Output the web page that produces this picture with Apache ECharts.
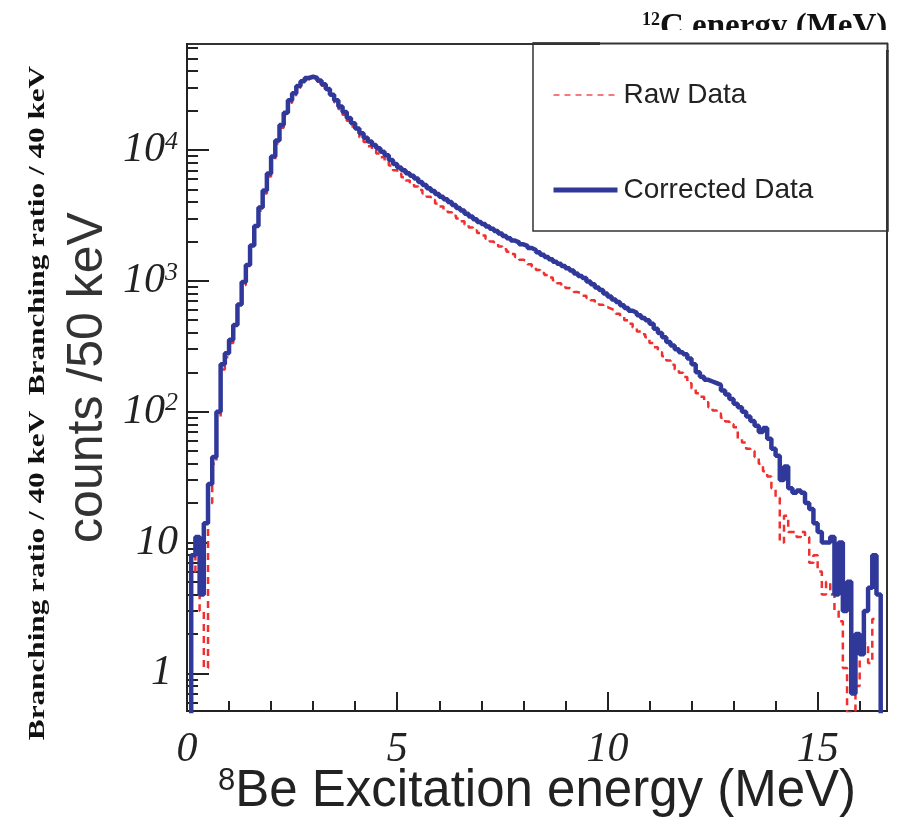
<!DOCTYPE html>
<html>
<head>
<meta charset="utf-8">
<script src="https://cdn.jsdelivr.net/npm/echarts@6/dist/echarts.min.js"></script>
<style>
html,body{margin:0;padding:0;background:#fff;}
#chart{width:898px;height:824px;}
</style>
</head>
<body>
<div id="chart"></div>
<script>
// Bin lower edges (MeV), 0.1 MeV bins
const energy = [
 0.0,0.1,0.2,0.3,0.4,0.5,0.6,0.7,0.8,0.9,
 1.0,1.1,1.2,1.3,1.4,1.5,1.6,1.7,1.8,1.9,
 2.0,2.1,2.2,2.3,2.4,2.5,2.6,2.7,2.8,2.9,
 3.0,3.1,3.2,3.3,3.4,3.5,3.6,3.7,3.8,3.9,
 4.0,4.1,4.2,4.3,4.4,4.5,4.6,4.7,4.8,4.9,
 5.0,5.1,5.2,5.3,5.4,5.5,5.6,5.7,5.8,5.9,
 6.0,6.1,6.2,6.3,6.4,6.5,6.6,6.7,6.8,6.9,
 7.0,7.1,7.2,7.3,7.4,7.5,7.6,7.7,7.8,7.9,
 8.0,8.1,8.2,8.3,8.4,8.5,8.6,8.7,8.8,8.9,
 9.0,9.1,9.2,9.3,9.4,9.5,9.6,9.7,9.8,9.9,
 10.0,10.1,10.2,10.3,10.4,10.5,10.6,10.7,10.8,10.9,
 11.0,11.1,11.2,11.3,11.4,11.5,11.6,11.7,11.8,11.9,
 12.0,12.1,12.2,12.3,12.4,12.5,12.6,12.7,12.8,12.9,
 13.0,13.1,13.2,13.3,13.4,13.5,13.6,13.7,13.8,13.9,
 14.0,14.1,14.2,14.3,14.4,14.5,14.6,14.7,14.8,14.9,
 15.0,15.1,15.2,15.3,15.4,15.5,15.6,15.7,15.8,15.9,
 16.0,16.1,16.2,16.3,16.4,16.5
];
// Corrected Data (counts per bin)
const corrected = [
 0.1,8,11,4,14,28,45,100,230,280,
 355,460,660,980,1320,1860,2630,3630,4900,6600,
 8900,11800,15500,19300,24000,27200,30900,33500,35500,36300,
 35500,34000,31800,29300,26500,24000,21500,19500,17600,16000,
 14600,13400,12400,11600,10900,10300,9700,9100,8400,7800,
 7350,7000,6650,6350,6050,5700,5400,5100,4850,4600,
 4400,4200,4000,3800,3600,3450,3250,3100,2950,2820,
 2720,2600,2500,2400,2300,2200,2120,2030,1970,1900,
 1850,1780,1720,1650,1580,1520,1460,1400,1350,1300,
 1250,1200,1140,1090,1050,990,940,890,850,800,
 760,720,690,650,620,590,570,545,520,500,
 470,430,400,370,340,320,300,285,275,255,
 230,200,185,175,170,165,160,145,135,125,
 115,108,100,92,85,78,70,75,62,52,
 46,30,38,26,24,25,24,20,18,14,
 12,10,10,11,4,10,3,5,0.7,2,
 1.4,3,4.5,8,4,0.1
];
// Raw Data
const raw = [
 0.1,6,9,3,1.1,20,40,90,210,260,
 335,435,625,930,1250,1760,2490,3440,4650,6270,
 8460,11200,14800,18400,23000,26200,29900,32600,34700,35600,
 34800,33200,31000,28400,25600,23100,20600,18600,16700,15100,
 13700,12500,11500,10700,10000,9400,8800,8200,7600,7000,
 6550,6200,5850,5550,5250,4950,4650,4400,4150,3900,
 3700,3500,3350,3150,3000,2850,2700,2560,2430,2320,
 2220,2100,2000,1920,1830,1740,1670,1600,1520,1450,
 1400,1340,1280,1210,1150,1110,1060,1010,960,920,
 880,850,820,800,770,740,710,680,655,630,
 610,590,560,530,500,470,440,410,390,370,
 335,310,285,265,246,228,210,198,184,165,
 150,138,130,118,108,102,97,90,84,80,
 76,62,58,52,50,45,40,35,32,26,
 22,10,16,12,12,11,12,11,7,8,
 6,4,5,4,3,2.5,1.1,0.5,0.5,0.8,
 1.5,1.7,1.2,2.6,2.6,0.1
];
const xMajorTicks = [0,5,10,15];
const xMinorTicks = [1,2,3,4,6,7,8,9,11,12,13,14,16];
const yMajorTicks = [1,10,100,1000,10000];
const yMinorTicks = [0.6,0.7,0.8,0.9,2,3,4,5,6,7,8,9,20,30,40,50,60,70,80,90,
  200,300,400,500,600,700,800,900,2000,3000,4000,5000,6000,7000,8000,9000,
  20000,30000,40000,50000,60000];
const seriesNames = ['Raw Data','Corrected Data'];

const X_MIN = 0, X_MAX = 16.65, Y_MIN = 0.515, Y_MAX = 64600;
const INK = '#222';
const BLUE = '#30399a';
const RED = '#f03030';

const chart = echarts.init(document.getElementById('chart'), null, {renderer:'canvas'});

function yFmt(v){
  const p = Math.round(Math.log10(v));
  if (p === 0) return '{one|1}';
  if (p === 1) return '10';
  return '10{s|' + p + '}';
}

const option = {
  animation:false,
  backgroundColor:'#fff',
  grid:{left:187,right:11,top:44,bottom:113,show:true,borderColor:'#333',borderWidth:2,
    backgroundColor:'transparent',containLabel:false,outerBoundsMode:'none'},
  legend:{
    data:[
      {name:seriesNames[0], lineStyle:{color:'#f05050',width:1.6,type:[6,5]}},
      {name:seriesNames[1], lineStyle:{color:BLUE,width:5}}
    ],
    orient:'vertical', left:546, top:75,
    itemWidth:64, itemHeight:16, itemGap:65, selectedMode:false,
    itemStyle:{opacity:0},
    textStyle:{fontFamily:'Liberation Sans',fontSize:28,color:INK,lineHeight:30,padding:[0,0,0,1]}
  },
  xAxis:[{
    type:'value', min:X_MIN, max:X_MAX, position:'bottom',
    axisLine:{show:true,onZero:false,lineStyle:{color:INK,width:2}},
    axisTick:{show:true,inside:true,length:19,customValues:xMajorTicks,lineStyle:{color:INK,width:2}},
    axisLabel:{customValues:xMajorTicks,margin:18,fontFamily:'Liberation Serif',fontStyle:'italic',fontSize:42,color:INK},
    splitLine:{show:false},
    name:'{s|8}Be Excitation energy (MeV)', nameLocation:'middle', nameGap:55, nameMoveOverlap:false,
    nameTextStyle:{fontFamily:'Liberation Sans',fontSize:51,color:INK,
      rich:{s:{fontFamily:'Liberation Sans',fontSize:31,color:INK,verticalAlign:'top'}}}
  },{
    type:'value', min:X_MIN, max:X_MAX, position:'bottom',
    axisLine:{show:false,onZero:false},
    axisTick:{show:true,inside:true,length:10,customValues:xMinorTicks,lineStyle:{color:INK,width:2}},
    axisLabel:{show:false}, splitLine:{show:false}
  }],
  yAxis:[{
    type:'log', logBase:10, min:Y_MIN, max:Y_MAX, position:'left',
    axisLine:{show:true,onZero:false,lineStyle:{color:INK,width:2}},
    axisTick:{show:true,inside:true,length:22,customValues:yMajorTicks,lineStyle:{color:INK,width:2}},
    axisLabel:{customValues:yMajorTicks,formatter:yFmt,margin:9,fontFamily:'Liberation Serif',fontStyle:'italic',fontSize:42,color:INK,
      rich:{s:{fontFamily:'Liberation Serif',fontStyle:'italic',fontSize:26,color:INK,verticalAlign:'top'},
            one:{fontFamily:'Liberation Serif',fontStyle:'italic',fontSize:42,color:INK,padding:[0,6,0,0]}}},
    splitLine:{show:false},
    name:'counts /50 keV', nameLocation:'middle', nameGap:74, nameMoveOverlap:false,
    nameTextStyle:{fontFamily:'Liberation Sans',fontSize:50,color:'#333'}
  },{
    type:'log', logBase:10, min:Y_MIN, max:Y_MAX, position:'left',
    axisLine:{show:false,onZero:false},
    axisTick:{show:true,inside:true,length:11,customValues:yMinorTicks,lineStyle:{color:INK,width:2}},
    axisLabel:{show:false}, splitLine:{show:false}
  }],
  series:[{
    name:seriesNames[0], type:'line', step:'end', symbol:'none', clip:true,
    xAxisIndex:0, yAxisIndex:0,
    lineStyle:{color:RED,width:2.5,type:[7,5]}, itemStyle:{color:RED},
    data:energy.map((e,i)=>[e,raw[i]])
  },{
    name:seriesNames[1], type:'line', step:'end', symbol:'none', clip:true,
    xAxisIndex:0, yAxisIndex:0,
    lineStyle:{color:BLUE,width:4.5}, itemStyle:{color:BLUE},
    data:energy.map((e,i)=>[e,corrected[i]])
  }],
  graphic:[
    {type:'rect', z:100, shape:{x:533,y:43,width:355,height:188}, style:{fill:'none',stroke:'#333',lineWidth:1.5}},
    {type:'text', z:100, x:38, y:403, rotation:Math.PI/2, scaleX:1.3,
      style:{text:'Branching ratio / 40 keV  Branching ratio / 40 keV', font:'bold 24px "Liberation Serif"',
        align:'center', verticalAlign:'middle', textAlign:'center', textVerticalAlign:'middle', fill:'#111'}},
    {type:'text', z:100, x:642, y:11,
      style:{text:'{s|12}{b|C energy (MeV)}', align:'left', verticalAlign:'top', fill:'#111',
        rich:{s:{fontFamily:'Liberation Serif',fontWeight:'bold',fontSize:18,verticalAlign:'top',fill:'#111'},
              b:{fontFamily:'Liberation Serif',fontWeight:'bold',fontSize:33,fill:'#111'}}}},
    {type:'rect', z:101, shape:{x:600,y:30,width:298,height:20}, style:{fill:'#fff'}},
    {type:'line', z:102, shape:{x1:533,y1:43.5,x2:888,y2:43.5}, style:{stroke:'#333',lineWidth:2}},
    {type:'line', z:102, shape:{x1:887.5,y1:43,x2:887.5,y2:52}, style:{stroke:'#333',lineWidth:2}}
  ]
};
chart.setOption(option);
</script>
</body>
</html>
